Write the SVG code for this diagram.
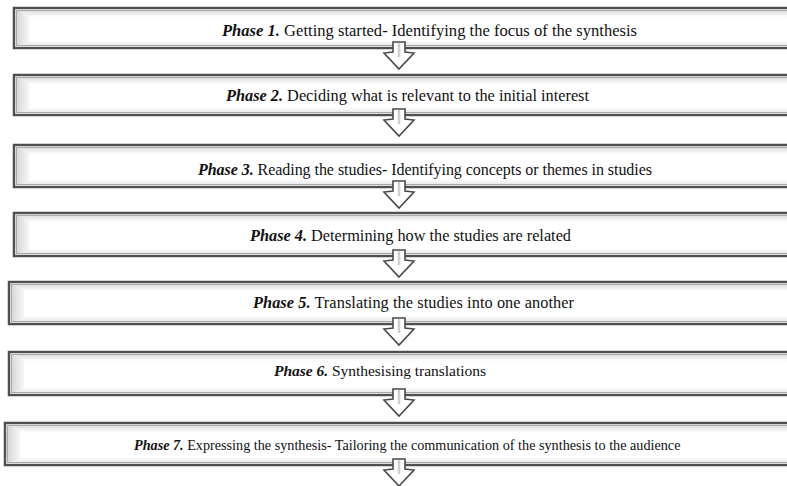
<svg xmlns="http://www.w3.org/2000/svg" width="787" height="486" viewBox="0 0 787 486">
<defs>
<linearGradient id="topg" x1="0" y1="0" x2="0" y2="1"><stop offset="0" stop-color="#d9d9d9"/><stop offset="1" stop-color="#ffffff"/></linearGradient>
<linearGradient id="leftg" x1="0" y1="0" x2="1" y2="0"><stop offset="0" stop-color="#d4d4d4"/><stop offset="1" stop-color="#f7f7f7"/></linearGradient>
<linearGradient id="botg" x1="0" y1="0" x2="0" y2="1"><stop offset="0" stop-color="#ffffff"/><stop offset="1" stop-color="#e4e4e4"/></linearGradient>
</defs>
<style>
.outer{fill:#fff;stroke:#4f4f4f;stroke-width:2.5}
.inner{fill:none;stroke:#a8a8a8;stroke-width:1}
.top{fill:url(#topg)}
.bot{fill:url(#botg)}
.bev{fill:url(#leftg)}
.t{font-family:"Liberation Serif","Times New Roman",serif;font-size:16px;fill:#111}
.b{font-weight:bold;font-style:italic}
.arr{fill:#fff;stroke:#4a4a4a;stroke-width:1.6;stroke-linejoin:miter}
.sh{stroke:#cfcfcf;stroke-width:2.5}
</style>
<g id="node1">
<rect class="outer" x="14" y="8" width="780" height="40"/>
<rect class="top" x="15.5" y="9.5" width="777" height="8"/>
<rect class="bot" x="15.5" y="40" width="777" height="6.5"/>
<polygon class="bev" points="15.5,9.5 29,17 29,42 15.5,46.5"/>
<rect class="inner" x="16.5" y="10.5" width="775" height="35"/>
<text class="t" x="222" y="36" style="font-size:16.5px" textLength="415"><tspan class="b">Phase 1.</tspan> Getting started- Identifying the focus of the synthesis</text>
</g>
<g id="node2">
<rect class="outer" x="14" y="75" width="780" height="40"/>
<rect class="top" x="15.5" y="76.5" width="777" height="8"/>
<rect class="bot" x="15.5" y="107" width="777" height="6.5"/>
<polygon class="bev" points="15.5,76.5 29,84 29,109 15.5,113.5"/>
<rect class="inner" x="16.5" y="77.5" width="775" height="35"/>
<text class="t" x="226" y="101" style="font-size:16.3px" textLength="363"><tspan class="b">Phase 2.</tspan> Deciding what is relevant to the initial interest</text>
</g>
<g id="node3">
<rect class="outer" x="14" y="145" width="780" height="42"/>
<rect class="top" x="15.5" y="146.5" width="777" height="8"/>
<rect class="bot" x="15.5" y="179" width="777" height="6.5"/>
<polygon class="bev" points="15.5,146.5 29,154 29,181 15.5,185.5"/>
<rect class="inner" x="16.5" y="147.5" width="775" height="37"/>
<text class="t" x="198" y="175" style="font-size:16px" textLength="454"><tspan class="b">Phase 3.</tspan> Reading the studies- Identifying concepts or themes in studies</text>
</g>
<g id="node4">
<rect class="outer" x="14" y="213" width="780" height="43"/>
<rect class="top" x="15.5" y="214.5" width="777" height="8"/>
<rect class="bot" x="15.5" y="248" width="777" height="6.5"/>
<polygon class="bev" points="15.5,214.5 29,222 29,250 15.5,254.5"/>
<rect class="inner" x="16.5" y="215.5" width="775" height="38"/>
<text class="t" x="250" y="241" style="font-size:16.3px"><tspan class="b">Phase 4.</tspan> Determining how the studies are related</text>
</g>
<g id="node5">
<rect class="outer" x="9" y="282" width="785" height="42"/>
<rect class="top" x="10.5" y="283.5" width="782" height="8"/>
<rect class="bot" x="10.5" y="316" width="782" height="6.5"/>
<polygon class="bev" points="10.5,283.5 24,291 24,318 10.5,322.5"/>
<rect class="inner" x="11.5" y="284.5" width="780" height="37"/>
<text class="t" x="253" y="308" style="font-size:16.3px" textLength="321"><tspan class="b">Phase 5.</tspan> Translating the studies into one another</text>
</g>
<g id="node6">
<rect class="outer" x="9" y="352" width="785" height="43"/>
<rect class="top" x="10.5" y="353.5" width="782" height="8"/>
<rect class="bot" x="10.5" y="387" width="782" height="6.5"/>
<polygon class="bev" points="10.5,353.5 24,361 24,389 10.5,393.5"/>
<rect class="inner" x="11.5" y="354.5" width="780" height="38"/>
<text class="t" x="274" y="376" style="font-size:15.5px" textLength="212"><tspan class="b">Phase 6.</tspan> Synthesising translations</text>
</g>
<g id="node7">
<rect class="outer" x="5" y="423" width="789" height="42"/>
<rect class="top" x="6.5" y="424.5" width="786" height="8"/>
<rect class="bot" x="6.5" y="457" width="786" height="6.5"/>
<polygon class="bev" points="6.5,424.5 20,432 20,459 6.5,463.5"/>
<rect class="inner" x="7.5" y="425.5" width="784" height="37"/>
<text class="t" x="134" y="450" style="font-size:14.2px"><tspan class="b">Phase 7.</tspan> Expressing the synthesis- Tailoring the communication of the synthesis to the audience</text>
</g>
<g id="connectors">
<g transform="translate(399,48)"><polygon class="arr" points="-6,-6 6,-6 6,4 15,5 0,21 -15,5 -6,4"/><line class="sh" x1="0" y1="-5" x2="0" y2="9"/></g>
<g transform="translate(399,115)"><polygon class="arr" points="-6,-6 6,-6 6,4 15,5 0,21 -15,5 -6,4"/><line class="sh" x1="0" y1="-5" x2="0" y2="9"/></g>
<g transform="translate(399,187)"><polygon class="arr" points="-6,-6 6,-6 6,4 15,5 0,21 -15,5 -6,4"/><line class="sh" x1="0" y1="-5" x2="0" y2="9"/></g>
<g transform="translate(399,256)"><polygon class="arr" points="-6,-6 6,-6 6,4 15,5 0,21 -15,5 -6,4"/><line class="sh" x1="0" y1="-5" x2="0" y2="9"/></g>
<g transform="translate(399,324)"><polygon class="arr" points="-6,-6 6,-6 6,4 15,5 0,21 -15,5 -6,4"/><line class="sh" x1="0" y1="-5" x2="0" y2="9"/></g>
<g transform="translate(399,395)"><polygon class="arr" points="-6,-6 6,-6 6,4 15,5 0,21 -15,5 -6,4"/><line class="sh" x1="0" y1="-5" x2="0" y2="9"/></g>
<g transform="translate(399,465)"><polygon class="arr" points="-6,-6 6,-6 6,4 15,5 0,21 -15,5 -6,4"/><line class="sh" x1="0" y1="-5" x2="0" y2="9"/></g>
</g>
</svg>
